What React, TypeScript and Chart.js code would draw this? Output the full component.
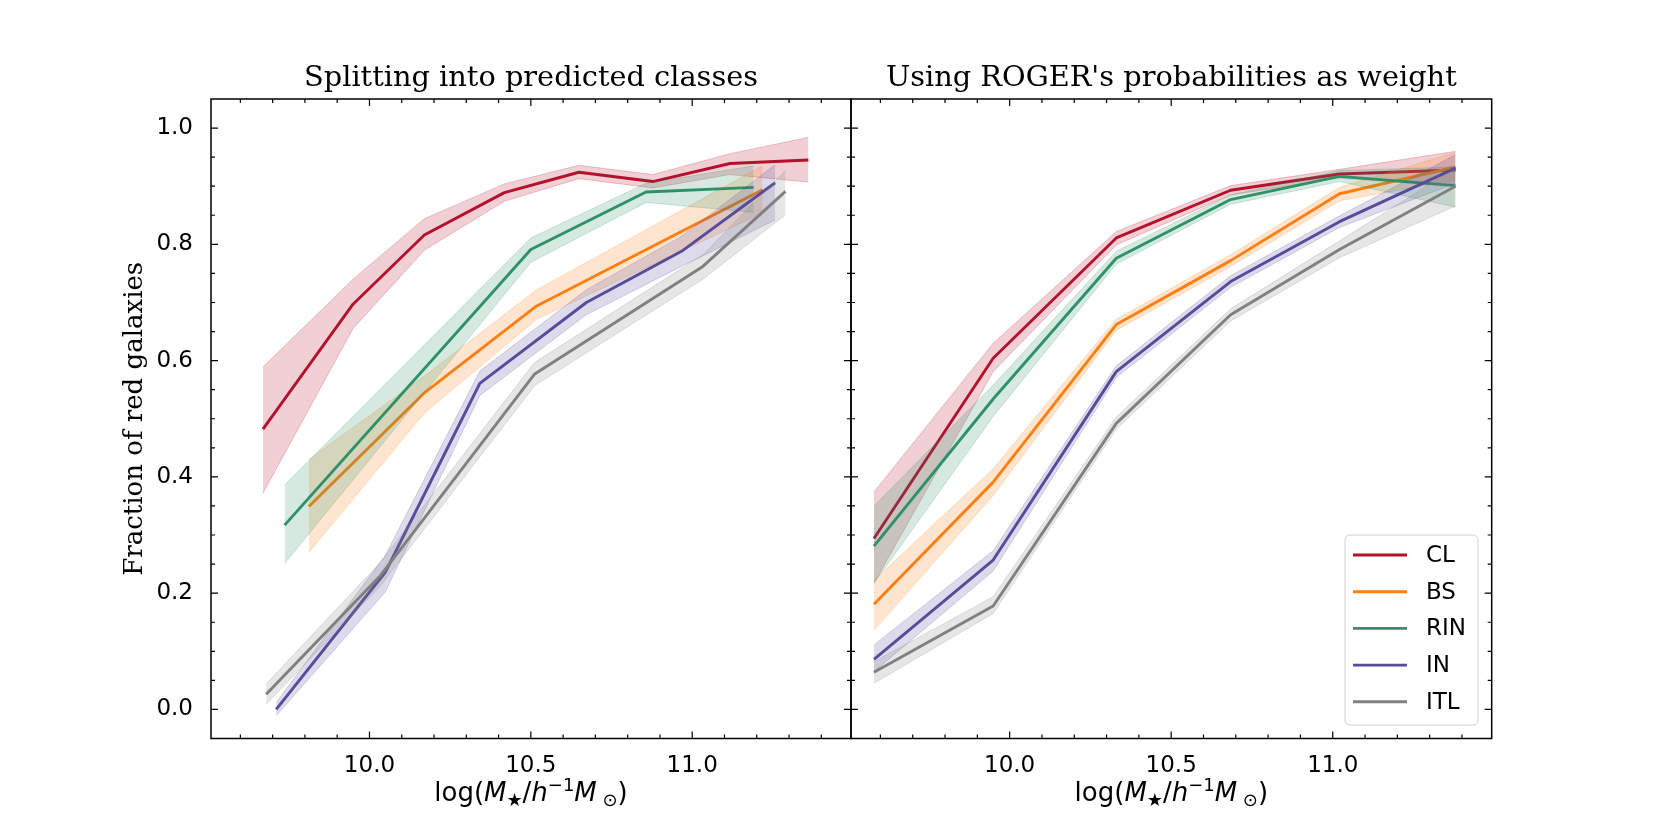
import React, { useEffect, useRef } from 'react';
import { Chart, registerables } from 'chart.js';

Chart.register(...registerables);

// ---------------- data ----------------
const CLASS_NAMES = ['CL', 'BS', 'RIN', 'IN', 'ITL'];
const CLASS_COLORS = ['#b5102c', '#ff7f0e', '#2e9168', '#574b9a', '#808080'];

const X_MIN = 9.509;
const X_MAX = 11.492;
const Y_MIN = -0.05;
const Y_MAX = 1.05;
const X_MAJOR_TICKS = [10.0, 10.5, 11.0];
const X_MINOR_TICKS = [9.6, 9.7, 9.8, 9.9, 10.1, 10.2, 10.3, 10.4, 10.6, 10.7, 10.8, 10.9, 11.1, 11.2, 11.3, 11.4];
const Y_MAJOR_TICKS = [0.0, 0.2, 0.4, 0.6, 0.8, 1.0];
const Y_MINOR_TICKS = [0.05, 0.1, 0.15, 0.25, 0.3, 0.35, 0.45, 0.5, 0.55, 0.65, 0.7, 0.75, 0.85, 0.9, 0.95];

const LEFT_TITLE = 'Splitting into predicted classes';
const RIGHT_TITLE = "Using ROGER's probabilities as weight";
const Y_LABEL = 'Fraction of red galaxies';

// Left panel: splitting into predicted classes
const L_CL_X = [9.670, 9.949, 10.170, 10.418, 10.649, 10.878, 11.117, 11.360];
const L_CL_Y = [0.482, 0.697, 0.816, 0.889, 0.924, 0.908, 0.939, 0.945];
const L_CL_LO = [0.372, 0.655, 0.790, 0.874, 0.913, 0.897, 0.920, 0.907];
const L_CL_HI = [0.589, 0.740, 0.844, 0.904, 0.936, 0.920, 0.956, 0.984];

const L_BS_X = [9.812, 10.169, 10.518, 11.218];
const L_BS_Y = [0.349, 0.544, 0.694, 0.894];
const L_BS_LO = [0.270, 0.509, 0.671, 0.854];
const L_BS_HI = [0.430, 0.573, 0.722, 0.935];

const L_RIN_X = [9.737, 10.500, 10.857, 11.190];
const L_RIN_Y = [0.317, 0.791, 0.890, 0.898];
const L_RIN_LO = [0.251, 0.769, 0.872, 0.855];
const L_RIN_HI = [0.386, 0.811, 0.905, 0.935];

const L_IN_X = [9.711, 10.049, 10.342, 10.672, 10.967, 11.257];
const L_IN_Y = [0.000, 0.236, 0.561, 0.700, 0.788, 0.906];
const L_IN_LO = [-0.011, 0.202, 0.540, 0.679, 0.762, 0.842];
const L_IN_HI = [0.012, 0.265, 0.582, 0.722, 0.814, 0.937];

const L_ITL_X = [9.680, 10.032, 10.512, 11.033, 11.289];
const L_ITL_Y = [0.026, 0.229, 0.577, 0.762, 0.891];
const L_ITL_LO = [0.009, 0.211, 0.557, 0.740, 0.851];
const L_ITL_HI = [0.044, 0.252, 0.597, 0.782, 0.927];

// Right panel: ROGER probabilities as weight
const R_X = [9.580, 9.949, 10.330, 10.684, 11.021, 11.380];

const R_CL_Y = [0.294, 0.604, 0.811, 0.893, 0.921, 0.928];
const R_CL_LO = [0.217, 0.581, 0.799, 0.885, 0.914, 0.900];
const R_CL_HI = [0.374, 0.630, 0.822, 0.901, 0.929, 0.960];

const R_BS_Y = [0.181, 0.391, 0.662, 0.772, 0.887, 0.933];
const R_BS_LO = [0.136, 0.368, 0.652, 0.762, 0.875, 0.911];
const R_BS_HI = [0.222, 0.414, 0.671, 0.782, 0.898, 0.958];

const R_RIN_Y = [0.281, 0.534, 0.776, 0.877, 0.917, 0.901];
const R_RIN_LO = [0.217, 0.504, 0.766, 0.869, 0.908, 0.864];
const R_RIN_HI = [0.350, 0.558, 0.788, 0.885, 0.927, 0.933];

const R_IN_Y = [0.086, 0.257, 0.581, 0.736, 0.839, 0.931];
const R_IN_LO = [0.065, 0.238, 0.571, 0.726, 0.829, 0.905];
const R_IN_HI = [0.111, 0.273, 0.591, 0.746, 0.849, 0.954];

const R_ITL_Y = [0.064, 0.178, 0.492, 0.679, 0.791, 0.900];
const R_ITL_LO = [0.045, 0.165, 0.482, 0.668, 0.777, 0.866];
const R_ITL_HI = [0.082, 0.194, 0.503, 0.689, 0.806, 0.931];

// ---------------- helpers ----------------
type Series = { name: string; color: string; x: number[]; y: number[]; lo: number[]; hi: number[] };

const LEFT_SERIES: Series[] = [
  { name: CLASS_NAMES[0], color: CLASS_COLORS[0], x: L_CL_X, y: L_CL_Y, lo: L_CL_LO, hi: L_CL_HI },
  { name: CLASS_NAMES[1], color: CLASS_COLORS[1], x: L_BS_X, y: L_BS_Y, lo: L_BS_LO, hi: L_BS_HI },
  { name: CLASS_NAMES[2], color: CLASS_COLORS[2], x: L_RIN_X, y: L_RIN_Y, lo: L_RIN_LO, hi: L_RIN_HI },
  { name: CLASS_NAMES[3], color: CLASS_COLORS[3], x: L_IN_X, y: L_IN_Y, lo: L_IN_LO, hi: L_IN_HI },
  { name: CLASS_NAMES[4], color: CLASS_COLORS[4], x: L_ITL_X, y: L_ITL_Y, lo: L_ITL_LO, hi: L_ITL_HI },
];

const RIGHT_SERIES: Series[] = [
  { name: CLASS_NAMES[0], color: CLASS_COLORS[0], x: R_X, y: R_CL_Y, lo: R_CL_LO, hi: R_CL_HI },
  { name: CLASS_NAMES[1], color: CLASS_COLORS[1], x: R_X, y: R_BS_Y, lo: R_BS_LO, hi: R_BS_HI },
  { name: CLASS_NAMES[2], color: CLASS_COLORS[2], x: R_X, y: R_RIN_Y, lo: R_RIN_LO, hi: R_RIN_HI },
  { name: CLASS_NAMES[3], color: CLASS_COLORS[3], x: R_X, y: R_IN_Y, lo: R_IN_LO, hi: R_IN_HI },
  { name: CLASS_NAMES[4], color: CLASS_COLORS[4], x: R_X, y: R_ITL_Y, lo: R_ITL_LO, hi: R_ITL_HI },
];

function rgba(hex: string, a: number) {
  const h = hex.replace('#', '');
  const r = parseInt(h.slice(0, 2), 16);
  const g = parseInt(h.slice(2, 4), 16);
  const b = parseInt(h.slice(4, 6), 16);
  return `rgba(${r},${g},${b},${a})`;
}

const LINE_WIDTH = 2.9;

function buildDatasets(series: Series[]) {
  const ds: any[] = [];
  // dataset 0 is drawn on top in Chart.js, so add the last class first
  [...series].reverse().forEach((s) => {
    const base = ds.length;
    ds.push({
      label: s.name,
      data: s.x.map((x, i) => ({ x, y: s.y[i] })),
      borderColor: s.color,
      backgroundColor: s.color,
      borderWidth: LINE_WIDTH,
      pointRadius: 0,
      fill: false,
      tension: 0,
      borderJoinStyle: 'round',
    });
    ds.push({
      label: s.name + '_hi',
      data: s.x.map((x, i) => ({ x, y: s.hi[i] })),
      borderColor: rgba(s.color, 0.22),
      borderWidth: 1,
      pointRadius: 0,
      fill: false,
      tension: 0,
    });
    ds.push({
      label: s.name + '_lo',
      data: s.x.map((x, i) => ({ x, y: s.lo[i] })),
      borderColor: rgba(s.color, 0.22),
      backgroundColor: rgba(s.color, 0.2),
      borderWidth: 1,
      pointRadius: 0,
      fill: base + 1,
      tension: 0,
    });
  });
  return ds;
}

const TICK_FONT = { family: 'DejaVu Sans', size: 23 };

function drawMathXLabel(ctx: CanvasRenderingContext2D, cx: number, baseline: number) {
  const big = 26;
  const small = 18;
  const segs = [
    { t: 'log(', italic: false, size: big, dy: 0 },
    { t: 'M', italic: true, size: big, dy: 0 },
    { t: '★', italic: false, size: small, dy: 5 },
    { t: '/', italic: false, size: big, dy: 0 },
    { t: 'h', italic: true, size: big, dy: 0 },
    { t: '−1', italic: false, size: small, dy: -10 },
    { t: 'M', italic: true, size: big, dy: 0 },
    { t: ' ⊙', italic: false, size: small, dy: 5 },
    { t: ')', italic: false, size: big, dy: 0 },
  ];
  const fontOf = (s: any) => `${s.italic ? 'italic ' : ''}${s.size}px "DejaVu Sans"`;
  let total = 0;
  const widths = segs.map((s) => {
    ctx.font = fontOf(s);
    const w = ctx.measureText(s.t).width;
    total += w;
    return w;
  });
  let x = cx - total / 2;
  ctx.textAlign = 'left';
  ctx.textBaseline = 'alphabetic';
  ctx.fillStyle = '#000';
  segs.forEach((s, i) => {
    ctx.font = fontOf(s);
    ctx.fillText(s.t, x, baseline + s.dy);
    x += widths[i];
  });
}

const framePlugin = {
  id: 'frame',
  afterDraw(chart: any, _args: any, opts: any) {
    const { ctx, chartArea: a, scales } = chart;
    const xs = scales.x;
    const ys = scales.y;
    ctx.save();
    ctx.strokeStyle = '#000';
    ctx.lineWidth = 1.2;
    ctx.beginPath();
    const majorLen = 7;
    const minorLen = 4;
    X_MAJOR_TICKS.forEach((v) => {
      const p = xs.getPixelForValue(v);
      ctx.moveTo(p, a.bottom); ctx.lineTo(p, a.bottom - majorLen);
      ctx.moveTo(p, a.top); ctx.lineTo(p, a.top + majorLen);
    });
    X_MINOR_TICKS.forEach((v) => {
      const p = xs.getPixelForValue(v);
      ctx.moveTo(p, a.bottom); ctx.lineTo(p, a.bottom - minorLen);
      ctx.moveTo(p, a.top); ctx.lineTo(p, a.top + minorLen);
    });
    Y_MAJOR_TICKS.forEach((v) => {
      const p = ys.getPixelForValue(v);
      ctx.moveTo(a.left, p); ctx.lineTo(a.left + majorLen, p);
      ctx.moveTo(a.right, p); ctx.lineTo(a.right - majorLen, p);
    });
    Y_MINOR_TICKS.forEach((v) => {
      const p = ys.getPixelForValue(v);
      ctx.moveTo(a.left, p); ctx.lineTo(a.left + minorLen, p);
      ctx.moveTo(a.right, p); ctx.lineTo(a.right - minorLen, p);
    });
    ctx.stroke();

    ctx.lineWidth = 1.5;
    ctx.strokeRect(a.left, a.top, a.right - a.left, a.bottom - a.top);

    // panel title
    ctx.fillStyle = '#000';
    ctx.font = '28.8px "DejaVu Serif"';
    ctx.textAlign = 'center';
    ctx.textBaseline = 'alphabetic';
    ctx.fillText(opts.title, (a.left + a.right) / 2, 86);

    // x axis label
    drawMathXLabel(ctx, (a.left + a.right) / 2, 801);

    // legend
    if (opts.legend) {
      const w = 133;
      const h = 190;
      const lx = a.right - 13.7 - w;
      const ly = a.bottom - 13.5 - h;
      ctx.beginPath();
      (ctx as any).roundRect(lx, ly, w, h, 5);
      ctx.fillStyle = 'rgba(255,255,255,0.8)';
      ctx.fill();
      ctx.strokeStyle = '#d0d0d0';
      ctx.lineWidth = 1;
      ctx.stroke();
      opts.legend.forEach((item: any, i: number) => {
        const cy = ly + 20 + i * 36.7;
        ctx.strokeStyle = item.color;
        ctx.lineWidth = LINE_WIDTH;
        ctx.beginPath();
        ctx.moveTo(lx + 8, cy);
        ctx.lineTo(lx + 62, cy);
        ctx.stroke();
        ctx.fillStyle = '#000';
        ctx.font = '23px "DejaVu Sans"';
        ctx.textAlign = 'left';
        ctx.textBaseline = 'middle';
        ctx.fillText(item.name, lx + 81, cy + 1);
      });
    }
    ctx.restore();
  },
};

function makeConfig(series: Series[], isLeft: boolean, canvasW: number): any {
  const areaLeft = isLeft ? 211 : 91;
  const areaRight = isLeft ? 851 : 731.7;
  const areaTop = 99;
  const areaBottom = 738.5;
  const yWidth = isLeft ? 91 : 0;
  return {
    type: 'line',
    data: { datasets: buildDatasets(series) },
    plugins: [framePlugin],
    options: {
      responsive: false,
      animation: false,
      events: [],
      devicePixelRatio: 1,
      layout: {
        padding: {
          left: areaLeft - yWidth,
          right: canvasW - areaRight,
          top: areaTop,
          bottom: 0,
        },
      },
      plugins: {
        legend: { display: false },
        tooltip: { enabled: false },
        title: { display: false },
        filler: { propagate: false },
        frame: {
          title: isLeft ? LEFT_TITLE : RIGHT_TITLE,
          legend: isLeft ? null : series.map((s) => ({ name: s.name, color: s.color })),
        },
      },
      scales: {
        x: {
          type: 'linear',
          position: 'bottom',
          min: X_MIN,
          max: X_MAX,
          grid: { display: false },
          border: { display: false },
          afterBuildTicks: (scale: any) => {
            scale.ticks = X_MAJOR_TICKS.map((v) => ({ value: v }));
          },
          afterFit: (scale: any) => {
            scale.height = 830 - areaBottom;
          },
          ticks: {
            font: TICK_FONT,
            color: '#000',
            padding: 6,
            maxRotation: 0,
            autoSkip: false,
            callback: (v: any) => Number(v).toFixed(1),
          },
        },
        y: {
          type: 'linear',
          position: 'left',
          min: Y_MIN,
          max: Y_MAX,
          grid: { display: false },
          border: { display: false },
          afterBuildTicks: (scale: any) => {
            scale.ticks = Y_MAJOR_TICKS.map((v) => ({ value: v }));
          },
          afterFit: (scale: any) => {
            scale.width = yWidth;
          },
          title: {
            display: isLeft,
            text: Y_LABEL,
            color: '#000',
            font: { family: 'DejaVu Serif', size: 26 },
            padding: 0,
          },
          ticks: {
            display: isLeft,
            font: TICK_FONT,
            color: '#000',
            padding: 10,
            callback: (v: any) => Number(v).toFixed(1),
          },
        },
      },
    },
  };
}

function Panel({ series, isLeft, left, width }: { series: Series[]; isLeft: boolean; left: number; width: number }) {
  const ref = useRef<HTMLCanvasElement | null>(null);
  useEffect(() => {
    if (!ref.current) return;
    const chart = new Chart(ref.current, makeConfig(series, isLeft, width));
    return () => chart.destroy();
  }, []);
  return (
    <canvas
      ref={ref}
      width={width}
      height={830}
      style={{ position: 'absolute', left, top: 0, width, height: 830 }}
    />
  );
}

export default function App() {
  useEffect(() => {
    document.body.style.margin = '0';
  }, []);
  return (
    <div style={{ position: 'relative', width: 1661, height: 830, background: '#fff', overflow: 'hidden' }}>
      <Panel series={LEFT_SERIES} isLeft={true} left={0} width={900} />
      <Panel series={RIGHT_SERIES} isLeft={false} left={760} width={901} />
    </div>
  );
}
